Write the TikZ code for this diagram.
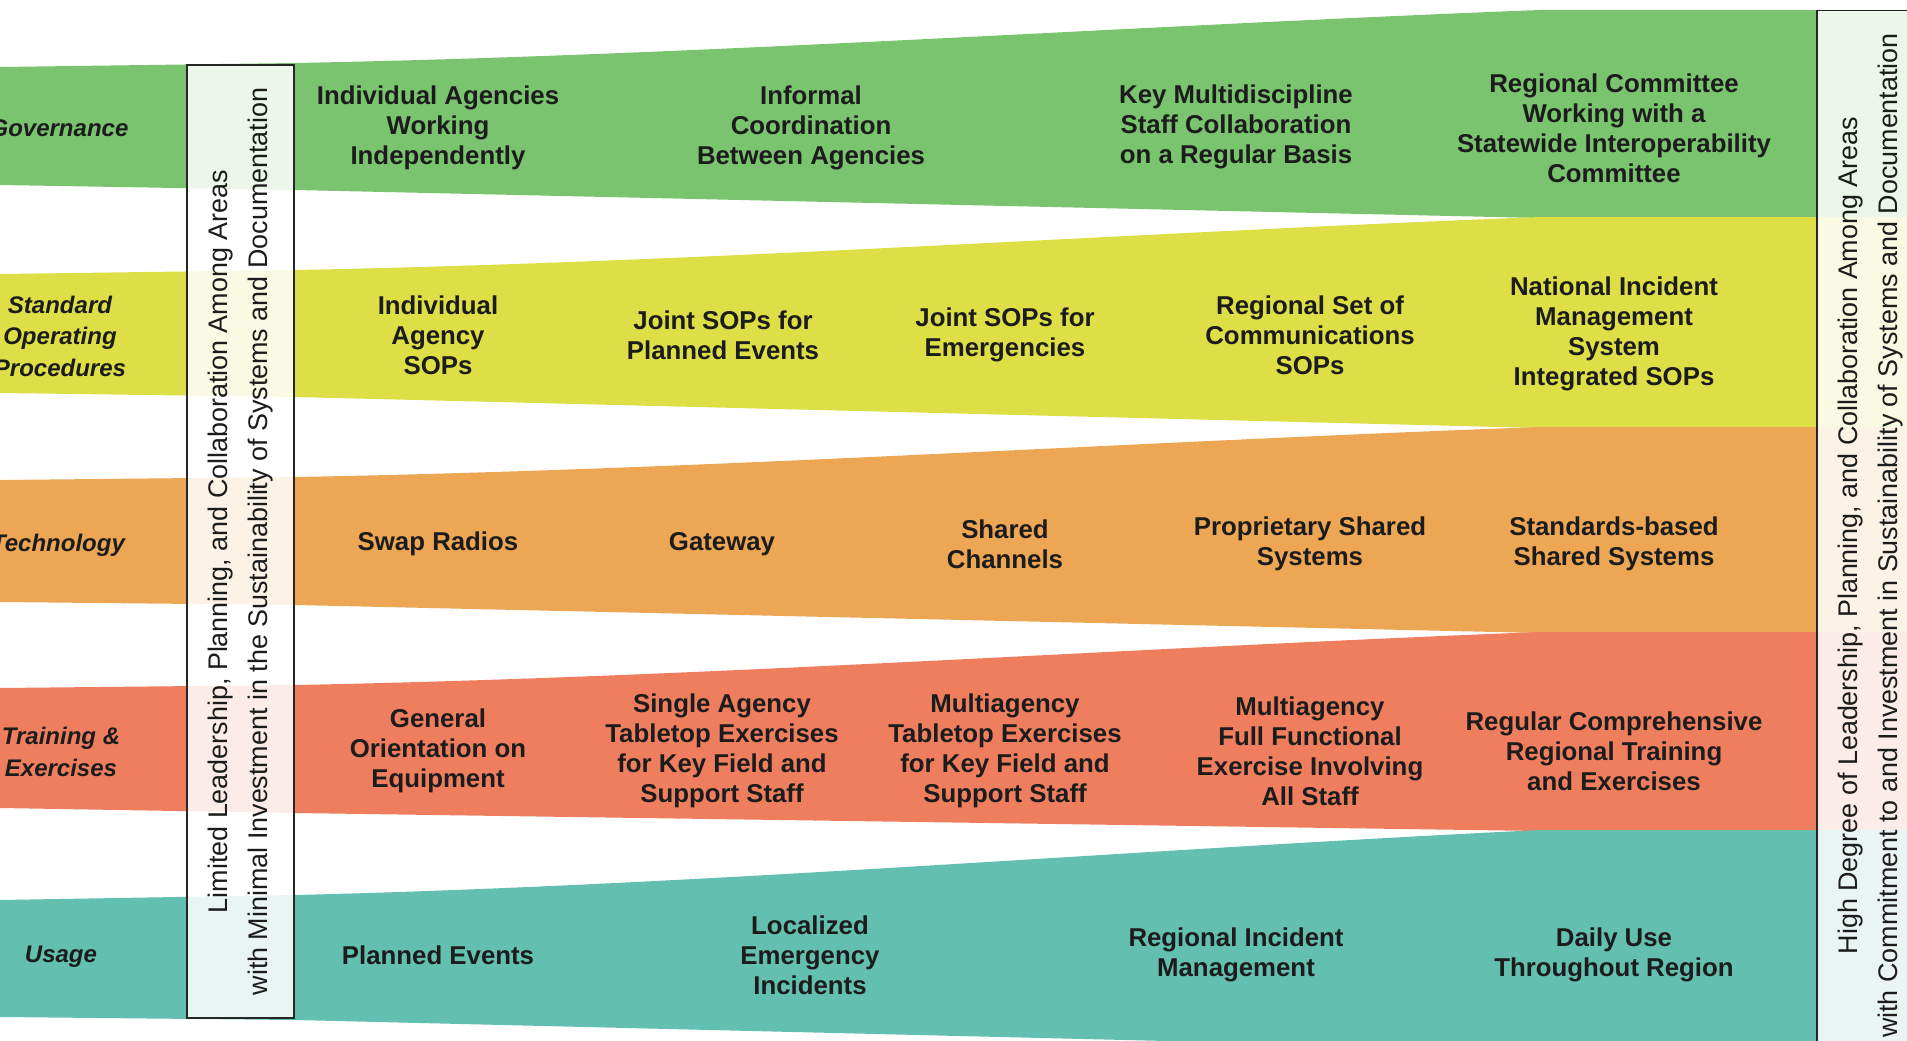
\documentclass[tikz,border=0pt]{standalone}
\usepackage{fontspec}
\setmainfont{Liberation Sans}

\definecolor{govgreen}{RGB}{122,196,111}
\definecolor{sopyellow}{RGB}{222,222,70}
\definecolor{techorange}{RGB}{236,166,84}
\definecolor{trainred}{RGB}{239,126,95}
\definecolor{useteal}{RGB}{99,191,176}
\definecolor{inkgray}{RGB}{28,28,28}

\begin{document}
\begin{tikzpicture}[x=1pt,y=-1pt,
  cell/.style={align=center,text=inkgray,inner sep=0pt,
    font=\fontsize{25.8}{30}\selectfont\bfseries},
  rowlabel/.style={align=center,text=inkgray,inner sep=0pt,
    font=\fontsize{24}{31.5}\selectfont\bfseries\itshape},
  sidebox/.style={draw=black!85,line width=1.6pt,fill=white,fill opacity=0.86,
    text opacity=1,text=inkgray,rotate=90,align=center,inner sep=0pt,
    minimum height=107pt,font=\fontsize{26.9}{39.5}\selectfont}]
  \useasboundingbox (0,0) rectangle (1907,1041);
  \clip (0,0) rectangle (1907,1041);

  % the five bands, widening to the right
  \fill[govgreen] (0,67) -- (295,63) .. controls (710,55) and (1125,26) .. (1540,10)
    -- (1930,10) -- (1930,218) -- (1540,218) -- (295,190) -- (0,185) -- cycle;
  \fill[sopyellow] (0,274) -- (295,270) .. controls (710,262) and (1125,233) .. (1540,217)
    -- (1930,217) -- (1930,428) -- (1540,428) -- (295,397) -- (0,393) -- cycle;
  \fill[techorange] (0,480) -- (295,477) .. controls (710,469.5) and (1125,442) .. (1540,427)
    -- (1930,427) -- (1930,633) -- (1540,633) -- (295,605) -- (0,602) -- cycle;
  \fill[trainred] (0,688) -- (295,685) .. controls (710,677) and (1125,648) .. (1540,632)
    -- (1930,632) -- (1930,831) -- (1540,831) -- (295,813) -- (0,808) -- cycle;
  \fill[useteal] (0,900) -- (295,895) .. controls (710,885) and (1125,850) .. (1540,830)
    -- (1930,830) -- (1930,1050) -- (1540,1050) -- (295,1020) -- (0,1017) -- cycle;

  % side boxes
  \node[sidebox,minimum width=953pt] (lowbox) at (240.5,541.5)
    {Limited Leadership, Planning, and Collaboration Among Areas\\
     with Minimal Investment in the Sustainability of Systems and Documentation};
  \node[sidebox,minimum width=1050pt] (highbox) at (1870.5,535.5)
    {High Degree of Leadership, Planning, and Collaboration Among Areas\\
     with Commitment to and Investment in Sustainability of Systems and Documentation};

  % row labels
  \node[rowlabel] (govlabel)   at (59,128) {Governance};
  \node[rowlabel] (soplabel)   at (60,336) {Standard\\Operating\\Procedures};
  \node[rowlabel] (techlabel)  at (58,545) {Technology};
  \node[rowlabel] (trainlabel) at (61,752) {Training \&\\Exercises};
  \node[rowlabel] (uselabel)   at (61,957) {Usage};

  % governance
  \node[cell] (gov1) at (438,128)  {Individual Agencies\\Working\\Independently};
  \node[cell] (gov2) at (811,128)  {Informal\\Coordination\\Between Agencies};
  \node[cell] (gov3) at (1236,127) {Key Multidiscipline\\Staff Collaboration\\on a Regular Basis};
  \node[cell] (gov4) at (1614,128) {Regional Committee\\Working with a\\Statewide Interoperability\\Committee};

  % standard operating procedures
  \node[cell] (sop1) at (438,335)  {Individual\\Agency\\SOPs};
  \node[cell] (sop2) at (723,335)  {Joint SOPs for\\Planned Events};
  \node[cell] (sop3) at (1005,335) {Joint SOPs for\\Emergencies};
  \node[cell] (sop4) at (1310,335) {Regional Set of\\Communications\\SOPs};
  \node[cell] (sop5) at (1614,334) {National Incident\\Management\\System\\Integrated SOPs};

  % technology
  \node[cell] (tech1) at (438,544)  {Swap Radios};
  \node[cell] (tech2) at (722,544)  {Gateway};
  \node[cell] (tech3) at (1005,544) {Shared\\Channels};
  \node[cell] (tech4) at (1310,544) {Proprietary Shared\\Systems};
  \node[cell] (tech5) at (1614,544) {Standards-based\\Shared Systems};

  % training and exercises
  \node[cell] (train1) at (438,751)  {General\\Orientation on\\Equipment};
  \node[cell] (train2) at (722,751)  {Single Agency\\Tabletop Exercises\\for Key Field and\\Support Staff};
  \node[cell] (train3) at (1005,751) {Multiagency\\Tabletop Exercises\\for Key Field and\\Support Staff};
  \node[cell] (train4) at (1310,751) {Multiagency\\Full Functional\\Exercise Involving\\All Staff};
  \node[cell] (train5) at (1614,751) {Regular Comprehensive\\Regional Training\\and Exercises};

  % usage
  \node[cell] (use1) at (438,955)  {Planned Events};
  \node[cell] (use2) at (810,955)  {Localized\\Emergency\\Incidents};
  \node[cell] (use3) at (1236,955) {Regional Incident\\Management};
  \node[cell] (use4) at (1614,955) {Daily Use\\Throughout Region};
\end{tikzpicture}
\end{document}
